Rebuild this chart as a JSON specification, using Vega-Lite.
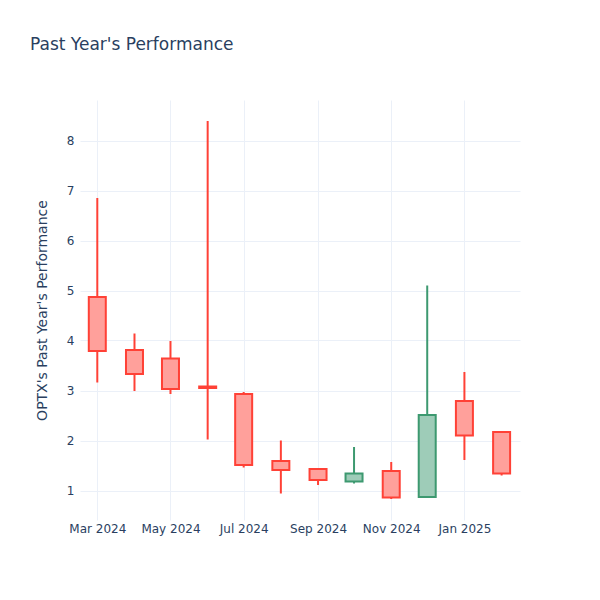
{
  "$schema": "https://vega.github.io/schema/vega-lite/v6.json",
  "width": 440,
  "height": 420,
  "autosize": {"type": "none"},
  "padding": {"left": 80, "top": 100, "right": 80, "bottom": 80},
  "background": "white",
  "config": {
    "view": {"stroke": null},
    "font": "DejaVu Sans"
  },
  "title": {
    "text": "Past Year's Performance",
    "anchor": "start",
    "frame": "group",
    "dx": -50,
    "offset": 46,
    "fontSize": 17,
    "fontWeight": "normal",
    "color": "#2a3f5f",
    "font": "DejaVu Sans"
  },
  "data": {
    "values": [
      {"date": "2024-03-01", "open": 4.87, "high": 6.85, "low": 3.16, "close": 3.79, "direction": "decreasing"},
      {"date": "2024-04-01", "open": 3.81, "high": 4.14, "low": 2.99, "close": 3.33, "direction": "decreasing"},
      {"date": "2024-05-01", "open": 3.64, "high": 3.99, "low": 2.93, "close": 3.03, "direction": "decreasing"},
      {"date": "2024-06-01", "open": 3.08, "high": 8.39, "low": 2.02, "close": 3.05, "direction": "decreasing"},
      {"date": "2024-07-01", "open": 2.93, "high": 2.97, "low": 1.46, "close": 1.51, "direction": "decreasing"},
      {"date": "2024-08-01", "open": 1.59, "high": 2.0, "low": 0.94, "close": 1.41, "direction": "decreasing"},
      {"date": "2024-09-01", "open": 1.43, "high": 1.43, "low": 1.11, "close": 1.21, "direction": "decreasing"},
      {"date": "2024-10-01", "open": 1.18, "high": 1.87, "low": 1.14, "close": 1.34, "direction": "increasing"},
      {"date": "2024-11-01", "open": 1.39, "high": 1.57, "low": 0.83, "close": 0.86, "direction": "decreasing"},
      {"date": "2024-12-01", "open": 0.87, "high": 5.1, "low": 0.87, "close": 2.51, "direction": "increasing"},
      {"date": "2025-01-01", "open": 2.79, "high": 3.37, "low": 1.61, "close": 2.1, "direction": "decreasing"},
      {"date": "2025-02-01", "open": 2.17, "high": 2.17, "low": 1.3, "close": 1.34, "direction": "decreasing"}
    ]
  },
  "encoding": {
    "x": {
      "field": "date",
      "type": "temporal",
      "scale": {
        "type": "utc",
        "padding": 0,
        "domain": [
          {"year": 2024, "month": 2, "date": 15, "hours": 14, "utc": true},
          {"year": 2025, "month": 2, "date": 16, "hours": 8, "utc": true}
        ]
      },
      "axis": {
        "title": null,
        "format": "%b %Y",
        "values": [
          {"year": 2024, "month": 3, "date": 1, "utc": true},
          {"year": 2024, "month": 5, "date": 1, "utc": true},
          {"year": 2024, "month": 7, "date": 1, "utc": true},
          {"year": 2024, "month": 9, "date": 1, "utc": true},
          {"year": 2024, "month": 11, "date": 1, "utc": true},
          {"year": 2025, "month": 1, "date": 1, "utc": true}
        ],
        "domain": false,
        "ticks": false,
        "labelPadding": 3,
        "labelFontSize": 12,
        "labelColor": "#2a3f5f",
        "labelFont": "DejaVu Sans",
        "gridColor": "#EBF0F8",
        "gridWidth": 1,
        "grid": true,
        "labelFlush": false
      }
    }
  },
  "layer": [
    {
      "mark": {"type": "rule", "strokeWidth": 2},
      "encoding": {
        "y": {
          "field": "low",
          "type": "quantitative",
          "scale": {"domain": [0.41, 8.81], "nice": false, "zero": false},
          "axis": {
            "title": "OPTX's Past Year's Performance",
            "titleFontSize": 14,
            "titleFontWeight": "normal",
            "titleColor": "#2a3f5f",
            "titleFont": "DejaVu Sans",
            "titlePadding": 17,
            "values": [1, 2, 3, 4, 5, 6, 7, 8],
            "domain": false,
            "ticks": false,
            "labelPadding": 6,
            "labelFontSize": 12,
            "labelColor": "#2a3f5f",
            "labelFont": "DejaVu Sans",
            "gridColor": "#EBF0F8",
            "gridWidth": 1
          }
        },
        "y2": {"field": "high"},
        "stroke": {
          "field": "direction",
          "type": "nominal",
          "scale": {"domain": ["increasing", "decreasing"], "range": ["#3D9970", "#FF4136"]},
          "legend": null
        }
      }
    },
    {
      "mark": {"type": "bar", "size": 17, "strokeWidth": 2},
      "encoding": {
        "y": {"field": "open", "type": "quantitative"},
        "y2": {"field": "close"},
        "stroke": {
          "field": "direction",
          "type": "nominal",
          "scale": {"domain": ["increasing", "decreasing"], "range": ["#3D9970", "#FF4136"]},
          "legend": null
        },
        "fill": {
          "field": "direction",
          "type": "nominal",
          "scale": {"domain": ["increasing", "decreasing"], "range": ["#9ECCB8", "#FFA09B"]},
          "legend": null
        }
      }
    }
  ]
}
